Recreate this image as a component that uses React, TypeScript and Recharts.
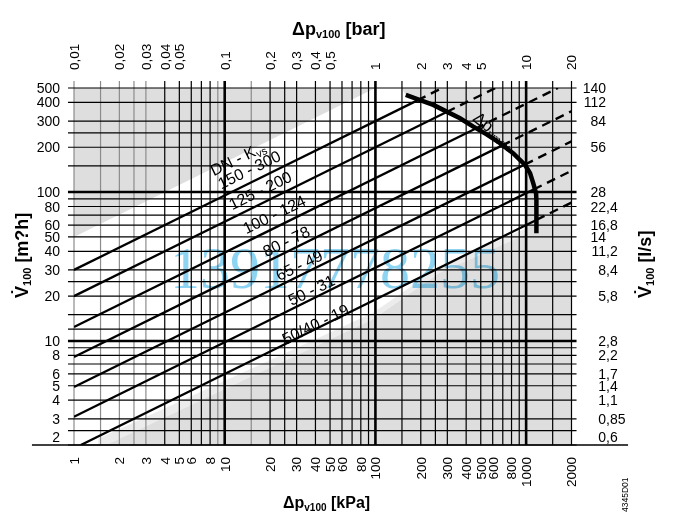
import React from 'react';
import { ComposedChart, XAxis, YAxis, Line, Area, ReferenceLine, ReferenceDot } from 'recharts';

// ---------- data (kPa on x, m3/h on y) ----------
const xGridValues = [1, 1.5, 2, 2.5, 3, 4, 5, 6, 7, 8, 9, 10, 15, 20, 25, 30, 40, 50, 60, 70, 80, 90, 100, 150, 200, 250, 300, 400, 500, 600, 700, 800, 900, 1000, 1500, 2000];
const xGrayGridValues = [1, 1.5, 2, 2.5, 3, 9, 15];
const xThickValues = [10, 100, 1000];
const yGridValues = [2, 2.5, 3, 4, 5, 6, 7, 8, 9, 10, 12, 15, 20, 25, 30, 40, 50, 60, 70, 80, 90, 100, 150, 200, 250, 300, 400, 500];
const yThickValues = [10, 100];

const kpaTicks = [1, 2, 3, 4, 5, 6, 8, 10, 20, 30, 40, 50, 60, 80, 100, 200, 300, 400, 500, 600, 800, 1000, 2000];
const barTicks = [1, 2, 3, 4, 5, 10, 20, 30, 40, 50, 100, 200, 300, 400, 500, 1000, 2000];
const barLabels = ['0,01', '0,02', '0,03', '0,04', '0,05', '0,1', '0,2', '0,3', '0,4', '0,5', '1', '2', '3', '4', '5', '10', '20'];
const flowTicks = [2, 3, 4, 5, 6, 8, 10, 20, 30, 40, 50, 60, 80, 100, 200, 300, 400, 500];
const flowLpsLabels = ['0,6', '0,85', '1,1', '1,4', '1,7', '2,2', '2,8', '5,8', '8,4', '11,2', '14', '16,8', '22,4', '28', '56', '84', '112', '140'];

const kvs300Solid = [{ dp: 1, q: 30 }, { dp: 190, q: 413 }];
const kvs300Dashed = [{ dp: 190, q: 413 }, { dp: 278, q: 500 }];
const kvs200Solid = [{ dp: 1, q: 20 }, { dp: 297, q: 345 }];
const kvs200Dashed = [{ dp: 297, q: 345 }, { dp: 625, q: 500 }];
const kvs124Solid = [{ dp: 1, q: 12.4 }, { dp: 460, q: 266 }];
const kvs124Dashed = [{ dp: 460, q: 266 }, { dp: 1626, q: 500 }];
const kvs78Solid = [{ dp: 1, q: 7.8 }, { dp: 690, q: 205 }];
const kvs78Dashed = [{ dp: 690, q: 205 }, { dp: 2000, q: 349 }];
const kvs49Solid = [{ dp: 1, q: 4.9 }, { dp: 980, q: 153 }];
const kvs49Dashed = [{ dp: 980, q: 153 }, { dp: 2000, q: 219 }];
const kvs31Solid = [{ dp: 1, q: 3.1 }, { dp: 1120, q: 104 }];
const kvs31Dashed = [{ dp: 1120, q: 104 }, { dp: 2000, q: 139 }];
const kvs19Solid = [{ dp: 1.11, q: 2 }, { dp: 1170, q: 65 }];
const kvs19Dashed = [{ dp: 1170, q: 65 }, { dp: 2000, q: 85 }];

const dpMaxCurve = [
  { dp: 159, q: 449 }, { dp: 198, q: 415 }, { dp: 242, q: 385 }, { dp: 297, q: 347 },
  { dp: 364, q: 313 }, { dp: 446, q: 275 }, { dp: 547, q: 244 }, { dp: 671, q: 213 },
  { dp: 822, q: 182 }, { dp: 984, q: 152 }, { dp: 1062, q: 134 }, { dp: 1117, q: 114 },
  { dp: 1164, q: 98 }, { dp: 1170, q: 88.5 }, { dp: 1170, q: 52.8 },
];

const grayTopLeft = [{ dp: 1, r: [50, 500] }, { dp: 100, r: [500, 500] }];
const grayTopRight = [
  { dp: 149, r: [500, 500] }, { dp: 159, r: [449, 500] }, { dp: 198, r: [415, 500] },
  { dp: 242, r: [385, 500] }, { dp: 297, r: [347, 500] }, { dp: 364, r: [313, 500] },
  { dp: 446, r: [275, 500] }, { dp: 547, r: [244, 500] }, { dp: 671, r: [213, 500] },
  { dp: 822, r: [182, 500] }, { dp: 1000, r: [150, 500] },
];
const grayBottomRight = [
  { dp: 1.65, r: [2, 2] }, { dp: 97, r: [2, 14] }, { dp: 267, r: [2, 28.6] },
  { dp: 1000, r: [2, 52] }, { dp: 1000, r: [2, 500] }, { dp: 2000, r: [2, 500] },
];
const paleBottomRight = [
  { dp: 1.45, r: [2, 2.2] }, { dp: 97, r: [2, 15.5] }, { dp: 267, r: [2, 31.5] },
  { dp: 1000, r: [2, 57] }, { dp: 1000, r: [2, 60] },
];

const lineLabels = [
  { dp: 12.2, q: 169, text: 'DN - K', sub: 'vs' },
  { dp: 14.5, q: 142, text: '150 - 300', sub: '' },
  { dp: 17.2, q: 103, text: '125 - 200', sub: '' },
  { dp: 21.3, q: 71, text: '100 - 124', sub: '' },
  { dp: 25.6, q: 46.8, text: '80 - 78', sub: '' },
  { dp: 31.2, q: 32.3, text: '65 - 49', sub: '' },
  { dp: 37.6, q: 22, text: '50 - 31', sub: '' },
  { dp: 40, q: 13, text: '50/40 - 19', sub: '' },
];
const dpMaxLabel = { dp: 612, q: 262 };

// ---------- styles ----------
const FONT = '"Liberation Sans", Arial, Helvetica, sans-serif';
const W = 677;
const H = 518;
const X_LEFT_EXT = 0.912;
const X_RIGHT_EXT = 2160;
const Y_TOP_EXT = 557;

const BottomTick = (p: any) => (
  <text x={p.x} y={p.y} transform={`rotate(-90 ${p.x} ${p.y})`} textAnchor="end" dy="0.36em"
    fontSize={13.5} fontFamily={FONT} fill="#000">{p.payload.value}</text>
);

const TopTick = (p: any) => {
  const i = barTicks.indexOf(p.payload.value);
  return (
    <text x={p.x} y={p.y} transform={`rotate(-90 ${p.x} ${p.y})`} textAnchor="start" dy="0.36em"
      fontSize={13.5} fontFamily={FONT} fill="#000">{i >= 0 ? barLabels[i] : ''}</text>
  );
};

const LeftTick = (p: any) => {
  const v = p.payload.value;
  const shift = v === 2 ? -8 : 0;
  return (
    <text x={p.x} y={p.y + shift} textAnchor="end" dy="0.36em" fontSize={14} fontFamily={FONT} fill="#000">{v}</text>
  );
};

const RightTick = (p: any) => {
  const v = p.payload.value;
  const i = flowTicks.indexOf(v);
  if (i < 0) return null;
  const parts = flowLpsLabels[i].split(',');
  const ax = p.x + 26.5;
  const y = p.y + (v === 2 ? -8 : 0);
  return (
    <g>
      <text x={ax} y={y} textAnchor="end" dy="0.36em" fontSize={14} fontFamily={FONT} fill="#000">{parts[0]}</text>
      {parts.length > 1 && (
        <text x={ax} y={y} textAnchor="start" dy="0.36em" fontSize={14} fontFamily={FONT} fill="#000">{',' + parts[1]}</text>
      )}
    </g>
  );
};

const solidSeries = [kvs300Solid, kvs200Solid, kvs124Solid, kvs78Solid, kvs49Solid, kvs31Solid, kvs19Solid];
const dashedSeries = [kvs300Dashed, kvs200Dashed, kvs124Dashed, kvs78Dashed, kvs49Dashed, kvs31Dashed, kvs19Dashed];

export default function App() {
  return (
    <div style={{ position: 'absolute', left: 0, top: 0, width: W, height: H, background: '#fff' }}>
      <ComposedChart width={W} height={H} margin={{ top: 58, right: 45.5, bottom: 43, left: 34 }}>
        <XAxis xAxisId="b" dataKey="dp" type="number" scale="log" domain={[1, 2000]} allowDataOverflow
          ticks={kpaTicks} interval={0} orientation="bottom" height={30} axisLine={false} tickLine={false}
          tickSize={8} tickMargin={4} tick={BottomTick} />
        <XAxis xAxisId="t" dataKey="dp" type="number" scale="log" domain={[1, 2000]} allowDataOverflow
          ticks={barTicks} interval={0} orientation="top" height={30} axisLine={false} tickLine={false}
          tickSize={7} tickMargin={11} tick={TopTick} />
        <YAxis yAxisId="l" type="number" scale="log" domain={[2, 500]} allowDataOverflow
          ticks={flowTicks} interval={0} orientation="left" width={40} axisLine={false} tickLine={false}
          tickSize={6} tickMargin={8} tick={LeftTick} />
        <YAxis yAxisId="r" type="number" scale="log" domain={[2, 500]} allowDataOverflow
          ticks={flowTicks} interval={0} orientation="right" width={60} axisLine={false} tickLine={false}
          tickSize={6} tickMargin={2} tick={RightTick} />

        <Area xAxisId="b" yAxisId="l" data={paleBottomRight} dataKey="r" type="linear" stroke="none" fill="#ececec" fillOpacity={1} isAnimationActive={false} />
        <Area xAxisId="b" yAxisId="l" data={grayTopLeft} dataKey="r" type="linear" stroke="none" fill="#dedede" fillOpacity={1} isAnimationActive={false} />
        <Area xAxisId="b" yAxisId="l" data={grayTopRight} dataKey="r" type="linear" stroke="none" fill="#dedede" fillOpacity={1} isAnimationActive={false} />
        <Area xAxisId="b" yAxisId="l" data={grayBottomRight} dataKey="r" type="linear" stroke="none" fill="#dedede" fillOpacity={1} isAnimationActive={false} />

        {xGridValues.map((v) => (
          <ReferenceLine key={'vx' + v} xAxisId="b" yAxisId="l" ifOverflow="visible"
            segment={[{ x: v, y: 2 }, { x: v, y: Y_TOP_EXT }]}
            stroke={xGrayGridValues.includes(v) ? '#8c8c8c' : '#000'}
            strokeWidth={xThickValues.includes(v) ? 2.6 : 1.2} />
        ))}
        {yGridValues.map((v) => (
          <ReferenceLine key={'hy' + v} xAxisId="b" yAxisId="l" ifOverflow="visible"
            segment={[{ x: X_LEFT_EXT, y: v }, { x: X_RIGHT_EXT, y: v }]}
            stroke="#000" strokeWidth={yThickValues.includes(v) ? 2.6 : 1.2} />
        ))}
        <ReferenceLine xAxisId="b" yAxisId="l" ifOverflow="visible"
          segment={[{ x: 0.526, y: 2 }, { x: 4745, y: 2 }]} stroke="#000" strokeWidth={1.4} />

        {solidSeries.map((d, i) => (
          <Line key={'s' + i} xAxisId="b" yAxisId="l" data={d} dataKey="q" type="linear" stroke="#000"
            strokeWidth={2.3} dot={false} activeDot={false} isAnimationActive={false} />
        ))}
        {dashedSeries.map((d, i) => (
          <Line key={'d' + i} xAxisId="b" yAxisId="l" data={d} dataKey="q" type="linear" stroke="#000"
            strokeWidth={2.4} strokeDasharray="9 6" dot={false} activeDot={false} isAnimationActive={false} />
        ))}
        <Line xAxisId="b" yAxisId="l" data={dpMaxCurve} dataKey="q" type="linear" stroke="#000"
          strokeWidth={4.5} dot={false} activeDot={false} isAnimationActive={false} />

        {lineLabels.map((l, i) => (
          <ReferenceDot key={'lb' + i} xAxisId="b" yAxisId="l" x={l.dp} y={l.q} r={0} ifOverflow="visible"
            shape={(p: any) => (
              <text x={p.cx} y={p.cy} transform={`rotate(-26 ${p.cx} ${p.cy})`} textAnchor="middle"
                dy="0.36em" fontSize={16} fontFamily={FONT} fill="#000">
                {l.text}
                {l.sub ? <tspan fontSize={11} dy="3">{l.sub}</tspan> : null}
              </text>
            )} />
        ))}
        <ReferenceDot xAxisId="b" yAxisId="l" x={dpMaxLabel.dp} y={dpMaxLabel.q} r={0} ifOverflow="visible"
          shape={(p: any) => (
            <text x={p.cx} y={p.cy} transform={`rotate(38 ${p.cx} ${p.cy})`} textAnchor="middle"
              dy="0.36em" fontSize={17} fontFamily={FONT} fill="#000">
              Δp<tspan fontSize={11} dy="3">vmax</tspan>
            </text>
          )} />
      </ComposedChart>

      <div style={{ position: 'absolute', left: 0, top: 0, width: W, height: H, pointerEvents: 'none', mixBlendMode: 'multiply' }}>
        <svg width={W} height={H}>
          <text x={170} y={288} fontSize={60} fontFamily='"Liberation Serif", "Times New Roman", serif' fill="#8dd4f3">13917778255</text>
        </svg>
      </div>

      <svg width={W} height={H} style={{ position: 'absolute', left: 0, top: 0, pointerEvents: 'none' }}>
        <text x={292} y={35} fontSize={18} fontWeight="bold" fontFamily={FONT} fill="#000">
          Δp<tspan fontSize={11} dy="3">v100</tspan><tspan dy="-3"> [bar]</tspan>
        </text>
        <text x={283} y={508} fontSize={16} fontWeight="bold" fontFamily={FONT} fill="#000">
          Δp<tspan fontSize={10} dy="3">v100</tspan><tspan dy="-3"> [kPa]</tspan>
        </text>
        <text x={28} y={298} transform="rotate(-90 28 298)" fontSize={18} fontWeight="bold" fontFamily={FONT} fill="#000">
          V̇<tspan fontSize={11} dy="3">100</tspan><tspan dy="-3"> [m?h]</tspan>
        </text>
        <text x={651} y={298} transform="rotate(-90 651 298)" fontSize={18} fontWeight="bold" fontFamily={FONT} fill="#000">
          V̇<tspan fontSize={11} dy="3">100</tspan><tspan dy="-3"> [l/s]</tspan>
        </text>
        <text x={628} y={512} transform="rotate(-90 628 512)" fontSize={8.5} fontFamily={FONT} fill="#000">4345D01</text>
      </svg>
    </div>
  );
}
